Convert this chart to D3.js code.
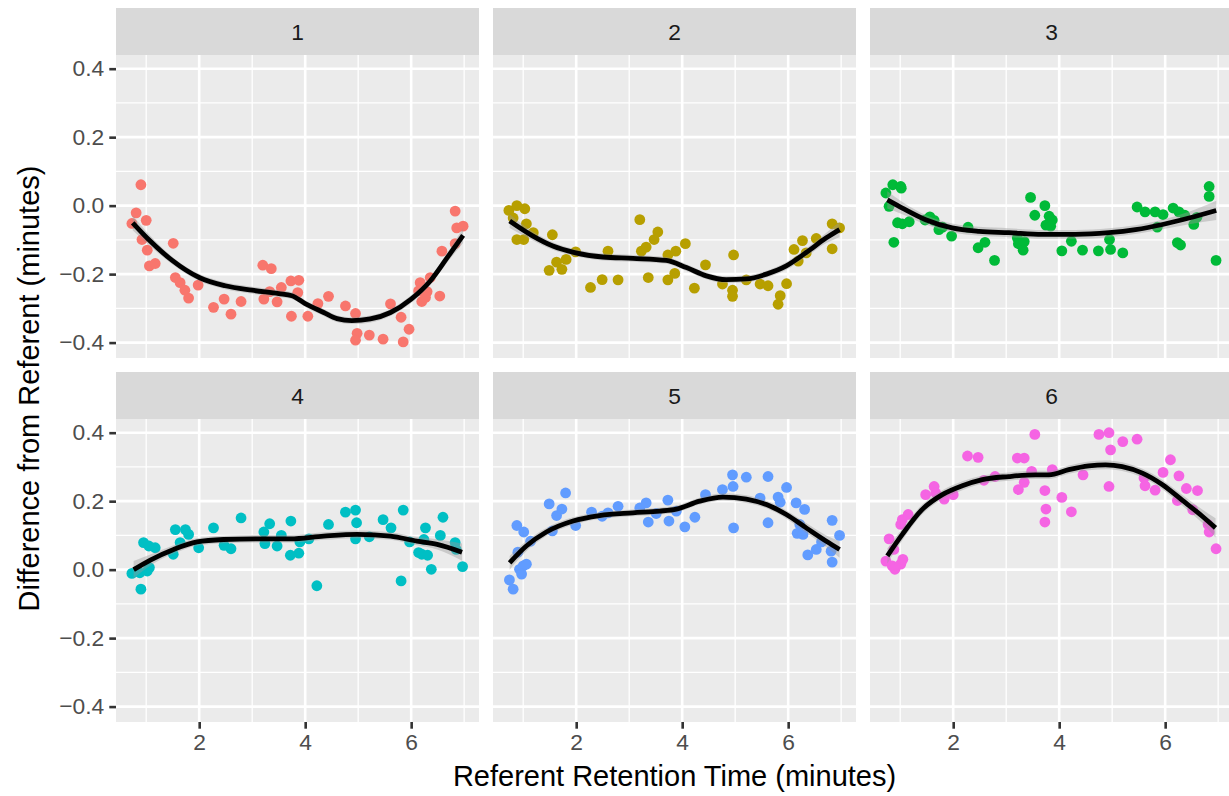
<!DOCTYPE html>
<html><head><meta charset="utf-8">
<script src="https://cdn.jsdelivr.net/npm/d3@7"></script>
<style>
body{margin:0;background:#fff}
svg{display:block}
text{font-family:"Liberation Sans",Arial,Helvetica,sans-serif}
</style>
</head><body><svg id="c" width="1229" height="796"></svg>
<script>
// ---------- data ----------
const panels = ["1","2","3","4","5","6"];
const colors = ["#F8766D","#B79F00","#00BA38","#00BFC4","#619CFF","#F564E3"];
const xTicks = [2,4,6];
const xMinor = [1,3,5,7];
const yTicks = [-0.4,-0.2,0,0.2,0.4];
const yMinor = [-0.3,-0.1,0.1,0.3];
const xTitle = "Referent Retention Time (minutes)";
const yTitle = "Difference from Referent (minutes)";

const pts1 = [[0.90,0.061],[0.81,-0.021],[0.73,-0.052],[1.00,-0.043],[0.92,-0.099],[1.02,-0.130],[1.06,-0.176],[1.17,-0.169],[1.51,-0.110],[1.55,-0.210],[1.64,-0.225],[1.73,-0.247],[1.80,-0.270],[1.98,-0.232],[2.27,-0.297],[2.47,-0.273],[2.60,-0.317],[2.79,-0.280],[3.20,-0.174],[3.36,-0.184],[3.22,-0.273],[3.33,-0.251],[3.47,-0.281],[3.55,-0.239],[3.73,-0.220],[3.88,-0.218],[3.86,-0.254],[3.74,-0.323],[4.05,-0.323],[4.24,-0.286],[4.44,-0.265],[4.76,-0.293],[4.95,-0.315],[4.98,-0.373],[4.95,-0.393],[5.21,-0.378],[5.47,-0.390],[5.61,-0.287],[5.81,-0.326],[5.96,-0.361],[5.85,-0.398],[6.17,-0.225],[6.14,-0.249],[6.30,-0.251],[6.36,-0.210],[6.20,-0.280],[6.27,-0.268],[6.54,-0.264],[6.58,-0.133],[6.83,-0.111],[6.83,-0.016],[6.86,-0.065],[6.98,-0.060]];
const pts2 = [[0.73,-0.014],[0.88,0.000],[1.03,-0.009],[0.81,-0.036],[1.06,-0.053],[0.88,-0.099],[1.01,-0.099],[1.19,-0.079],[1.55,-0.085],[1.49,-0.189],[1.63,-0.165],[1.73,-0.186],[1.81,-0.157],[1.99,-0.135],[2.27,-0.239],[2.49,-0.216],[2.60,-0.133],[2.79,-0.217],[3.20,-0.041],[3.23,-0.133],[3.32,-0.121],[3.47,-0.099],[3.54,-0.077],[3.36,-0.210],[3.73,-0.144],[3.88,-0.133],[4.06,-0.111],[3.86,-0.198],[3.73,-0.217],[4.23,-0.241],[4.44,-0.173],[4.97,-0.144],[4.76,-0.229],[4.95,-0.247],[4.95,-0.265],[5.21,-0.217],[5.47,-0.229],[5.62,-0.234],[5.97,-0.228],[5.85,-0.263],[5.81,-0.288],[6.11,-0.128],[6.27,-0.102],[6.19,-0.162],[6.34,-0.138],[6.53,-0.096],[6.83,-0.053],[6.97,-0.065],[6.83,-0.126]];
const pts3 = [[0.73,0.037],[0.86,0.061],[1.01,0.056],[1.02,0.051],[0.79,-0.002],[0.95,-0.050],[1.04,-0.053],[1.17,-0.047],[0.88,-0.107],[1.47,-0.042],[1.56,-0.033],[1.64,-0.043],[1.73,-0.070],[1.80,-0.063],[1.97,-0.089],[2.28,-0.063],[2.47,-0.123],[2.60,-0.107],[2.78,-0.160],[3.21,-0.094],[3.23,-0.111],[3.34,-0.105],[3.32,-0.130],[3.46,0.024],[3.54,-0.028],[3.73,0.000],[3.81,-0.031],[3.87,-0.042],[3.75,-0.057],[3.84,-0.060],[4.05,-0.132],[4.23,-0.104],[4.44,-0.130],[4.74,-0.132],[4.95,-0.099],[4.97,-0.128],[5.20,-0.138],[5.47,-0.004],[5.62,-0.018],[5.81,-0.018],[5.96,-0.026],[6.15,-0.007],[6.26,-0.018],[6.37,-0.028],[5.85,-0.063],[6.23,-0.108],[6.29,-0.115],[6.54,-0.055],[6.60,-0.034],[6.83,0.056],[6.83,0.027],[6.96,-0.160]];
const pts4 = [[0.73,-0.011],[0.88,-0.009],[1.02,-0.004],[1.06,0.006],[0.90,-0.057],[0.95,0.079],[1.05,0.069],[1.17,0.064],[1.51,0.045],[1.55,0.117],[1.64,0.079],[1.74,0.117],[1.80,0.103],[1.99,0.064],[2.27,0.122],[2.47,0.071],[2.60,0.061],[2.79,0.151],[3.22,0.110],[3.33,0.134],[3.24,0.076],[3.47,0.069],[3.55,0.100],[3.73,0.142],[3.72,0.042],[3.88,0.048],[3.90,0.081],[4.07,0.090],[4.22,-0.047],[4.44,0.132],[4.76,0.168],[4.95,0.174],[4.97,0.137],[4.95,0.090],[5.21,0.096],[5.47,0.146],[5.62,0.122],[5.85,0.174],[5.81,-0.033],[5.97,0.081],[6.14,0.050],[6.20,0.045],[6.31,0.042],[6.27,0.122],[6.24,0.088],[6.38,0.001],[6.55,0.100],[6.60,0.153],[6.83,0.079],[6.85,0.059],[6.97,0.009]];
const pts5 = [[0.74,-0.030],[0.81,-0.057],[0.90,0.051],[0.88,0.129],[1.01,0.110],[0.93,0.001],[1.00,0.011],[1.06,0.016],[0.97,-0.013],[1.14,0.083],[1.49,0.192],[1.55,0.113],[1.63,0.158],[1.73,0.177],[1.80,0.224],[1.99,0.129],[2.29,0.168],[2.49,0.156],[2.60,0.166],[2.79,0.185],[3.20,0.180],[3.32,0.195],[3.36,0.139],[3.51,0.164],[3.73,0.203],[3.75,0.142],[3.89,0.171],[4.05,0.125],[4.24,0.153],[4.44,0.219],[4.76,0.234],[4.95,0.277],[4.96,0.243],[4.97,0.122],[5.21,0.270],[5.47,0.209],[5.62,0.272],[5.62,0.137],[5.81,0.212],[5.85,0.197],[5.97,0.240],[6.15,0.195],[6.31,0.176],[6.22,0.132],[6.17,0.106],[6.28,0.103],[6.37,0.043],[6.53,0.059],[6.63,0.081],[6.83,0.144],[6.81,0.054],[6.83,0.022],[6.97,0.100]];
const pts6 = [[0.73,0.025],[0.79,0.090],[0.85,0.011],[0.90,0.001],[1.01,0.016],[1.05,0.030],[0.88,0.059],[1.01,0.132],[1.04,0.146],[1.15,0.161],[1.48,0.219],[1.64,0.243],[1.67,0.224],[1.83,0.206],[2.00,0.219],[2.27,0.332],[2.47,0.328],[2.58,0.261],[2.79,0.272],[3.21,0.326],[3.34,0.326],[3.23,0.234],[3.34,0.255],[3.48,0.287],[3.54,0.395],[3.73,0.231],[3.75,0.177],[3.73,0.139],[3.87,0.292],[4.05,0.211],[4.23,0.169],[4.45,0.277],[4.75,0.395],[4.94,0.400],[4.97,0.350],[4.94,0.243],[5.20,0.374],[5.47,0.381],[5.60,0.268],[5.62,0.245],[5.81,0.232],[5.96,0.284],[6.10,0.321],[6.26,0.274],[6.40,0.237],[6.23,0.202],[6.52,0.175],[6.61,0.231],[6.81,0.132],[6.83,0.110],[6.96,0.061]];

// smooth fit: [x, fit, se half-width]
const fit1 = [[0.745,-0.050,0.022],[1.08,-0.104,0.015],[1.49,-0.160,0.011],[2.0,-0.210,0.010],[2.49,-0.234,0.010],[3.0,-0.247,0.010],[3.5,-0.257,0.010],[3.75,-0.263,0.010],[4.0,-0.286,0.010],[4.35,-0.312,0.010],[4.6,-0.330,0.010],[4.88,-0.336,0.010],[5.23,-0.331,0.010],[5.61,-0.312,0.010],[6.0,-0.273,0.011],[6.36,-0.220,0.012],[6.68,-0.152,0.014],[6.98,-0.087,0.022]];
const fit2 = [[0.745,-0.045,0.020],[1.185,-0.089,0.013],[1.56,-0.118,0.011],[1.97,-0.137,0.010],[2.505,-0.150,0.010],[3.07,-0.154,0.010],[3.70,-0.160,0.010],[4.08,-0.181,0.010],[4.455,-0.205,0.010],[4.83,-0.216,0.010],[5.21,-0.214,0.010],[5.59,-0.200,0.010],[5.965,-0.176,0.011],[6.34,-0.137,0.012],[6.72,-0.094,0.015],[6.97,-0.070,0.022]];
const fit3 = [[0.757,0.017,0.025],[1.04,-0.007,0.018],[1.48,-0.041,0.014],[1.98,-0.065,0.013],[2.49,-0.075,0.013],[3.05,-0.079,0.013],[3.68,-0.084,0.013],[4.31,-0.084,0.013],[4.94,-0.079,0.013],[5.44,-0.070,0.013],[5.95,-0.055,0.014],[6.45,-0.036,0.018],[6.964,-0.014,0.028]];
const fit4 = [[0.763,0.000,0.025],[1.078,0.028,0.016],[1.518,0.059,0.012],[1.958,0.081,0.011],[2.46,0.088,0.011],[3.09,0.090,0.011],[3.72,0.090,0.011],[4.35,0.098,0.011],[4.98,0.103,0.011],[5.61,0.098,0.011],[6.11,0.083,0.012],[6.49,0.074,0.015],[6.96,0.051,0.025]];
const fit5 = [[0.744,0.020,0.020],[1.059,0.069,0.015],[1.436,0.110,0.012],[1.94,0.142,0.011],[2.44,0.158,0.010],[3.07,0.166,0.010],[3.575,0.171,0.010],[3.89,0.177,0.010],[4.33,0.200,0.010],[4.77,0.212,0.011],[5.21,0.206,0.011],[5.59,0.190,0.011],[5.965,0.161,0.012],[6.34,0.122,0.014],[6.72,0.083,0.017],[6.97,0.059,0.024]];
const fit6 = [[0.757,0.040,0.022],[1.04,0.103,0.017],[1.417,0.176,0.014],[1.795,0.219,0.013],[2.172,0.245,0.013],[2.55,0.263,0.012],[3.05,0.272,0.012],[3.555,0.277,0.012],[3.807,0.277,0.012],[4.18,0.292,0.012],[4.56,0.303,0.013],[4.876,0.306,0.013],[5.19,0.301,0.013],[5.57,0.282,0.013],[5.95,0.248,0.014],[6.32,0.203,0.016],[6.7,0.156,0.020],[6.95,0.122,0.028]];

const allPts = [pts1,pts2,pts3,pts4,pts5,pts6];
const allFits = [fit1,fit2,fit3,fit4,fit5,fit6];

// ---------- layout ----------
const colLeft = [116, 493, 870];
const rowTop = [55, 419];
const panelW = 363, panelH = 303, stripH = 47;
const tickFont = 22.8, titleFont = 29;
const svg = d3.select("#c");

const x = d3.scaleLinear().domain([0.43, 7.28]).range([0, panelW]);
const y = d3.scaleLinear().domain([-0.445, 0.44]).range([panelH, 0]);

const fmtY = d => d === 0 ? "0.0" : (d < 0 ? "\u2212" + d3.format(".1f")(-d) : d3.format(".1f")(d));

panels.forEach((lab, i) => {
  const c = i % 3, r = Math.floor(i / 3);
  const g = svg.append("g").attr("transform", `translate(${colLeft[c]},${rowTop[r]})`);
  // strip
  g.append("rect").attr("x", 0).attr("y", -stripH).attr("width", panelW).attr("height", stripH).attr("fill", "#D9D9D9");
  g.append("text").attr("x", panelW / 2).attr("y", -stripH / 2).attr("dy", "0.36em")
    .attr("text-anchor", "middle").attr("font-size", tickFont).attr("fill", "#1A1A1A").text(lab);
  // panel bg
  g.append("rect").attr("width", panelW).attr("height", panelH).attr("fill", "#EBEBEB");
  // grid minor
  g.selectAll(".gxm").data(xMinor).join("line").attr("x1", x).attr("x2", x).attr("y1", 0).attr("y2", panelH)
    .attr("stroke", "#fff").attr("stroke-width", 1.3);
  g.selectAll(".gym").data(yMinor).join("line").attr("y1", y).attr("y2", y).attr("x1", 0).attr("x2", panelW)
    .attr("stroke", "#fff").attr("stroke-width", 1.3);
  // grid major
  g.selectAll(".gx").data(xTicks).join("line").attr("x1", x).attr("x2", x).attr("y1", 0).attr("y2", panelH)
    .attr("stroke", "#fff").attr("stroke-width", 2.6);
  g.selectAll(".gy").data(yTicks).join("line").attr("y1", y).attr("y2", y).attr("x1", 0).attr("x2", panelW)
    .attr("stroke", "#fff").attr("stroke-width", 2.6);

  // points
  g.append("g").selectAll("circle").data(allPts[i]).join("circle")
    .attr("cx", d => x(d[0])).attr("cy", d => y(d[1])).attr("r", 5.4).attr("fill", colors[i]);

  // smooth band + line
  const fit = allFits[i];
  const area = d3.area().x(d => x(d[0])).y0(d => y(d[1] - d[2])).y1(d => y(d[1] + d[2])).curve(d3.curveMonotoneX);
  g.append("path").attr("d", area(fit)).attr("fill", "#999999").attr("fill-opacity", 0.4);
  const line = d3.line().x(d => x(d[0])).y(d => y(d[1])).curve(d3.curveMonotoneX);
  g.append("path").attr("d", line(fit)).attr("fill", "none").attr("stroke", "#000").attr("stroke-width", 4.8);

  // axes
  if (r === 1) {
    const ax = d3.axisBottom(x).tickValues(xTicks).tickSize(6.7).tickPadding(5).tickFormat(d3.format("d"));
    const ag = g.append("g").attr("transform", `translate(0,${panelH})`).call(ax);
    ag.select(".domain").remove();
    ag.selectAll(".tick line").attr("stroke", "#333333").attr("stroke-width", 2.6);
    ag.selectAll(".tick text").attr("font-size", tickFont).attr("fill", "#4D4D4D").attr("font-family", null);
  }
  if (c === 0) {
    const ay = d3.axisLeft(y).tickValues(yTicks).tickSize(6.7).tickPadding(5).tickFormat(fmtY);
    const ag = g.append("g").call(ay);
    ag.select(".domain").remove();
    ag.selectAll(".tick line").attr("stroke", "#333333").attr("stroke-width", 2.6);
    ag.selectAll(".tick text").attr("font-size", tickFont).attr("fill", "#4D4D4D").attr("font-family", null);
  }
});

// axis titles
svg.append("text").attr("x", (colLeft[0] + colLeft[2] + panelW) / 2).attr("y", 786)
  .attr("text-anchor", "middle").attr("font-size", titleFont).attr("fill", "#000").text(xTitle);
svg.append("text").attr("transform", `translate(39,${(rowTop[0] + rowTop[1] + panelH) / 2}) rotate(-90)`)
  .attr("text-anchor", "middle").attr("font-size", titleFont).attr("fill", "#000").text(yTitle);
</script>
</body></html>
